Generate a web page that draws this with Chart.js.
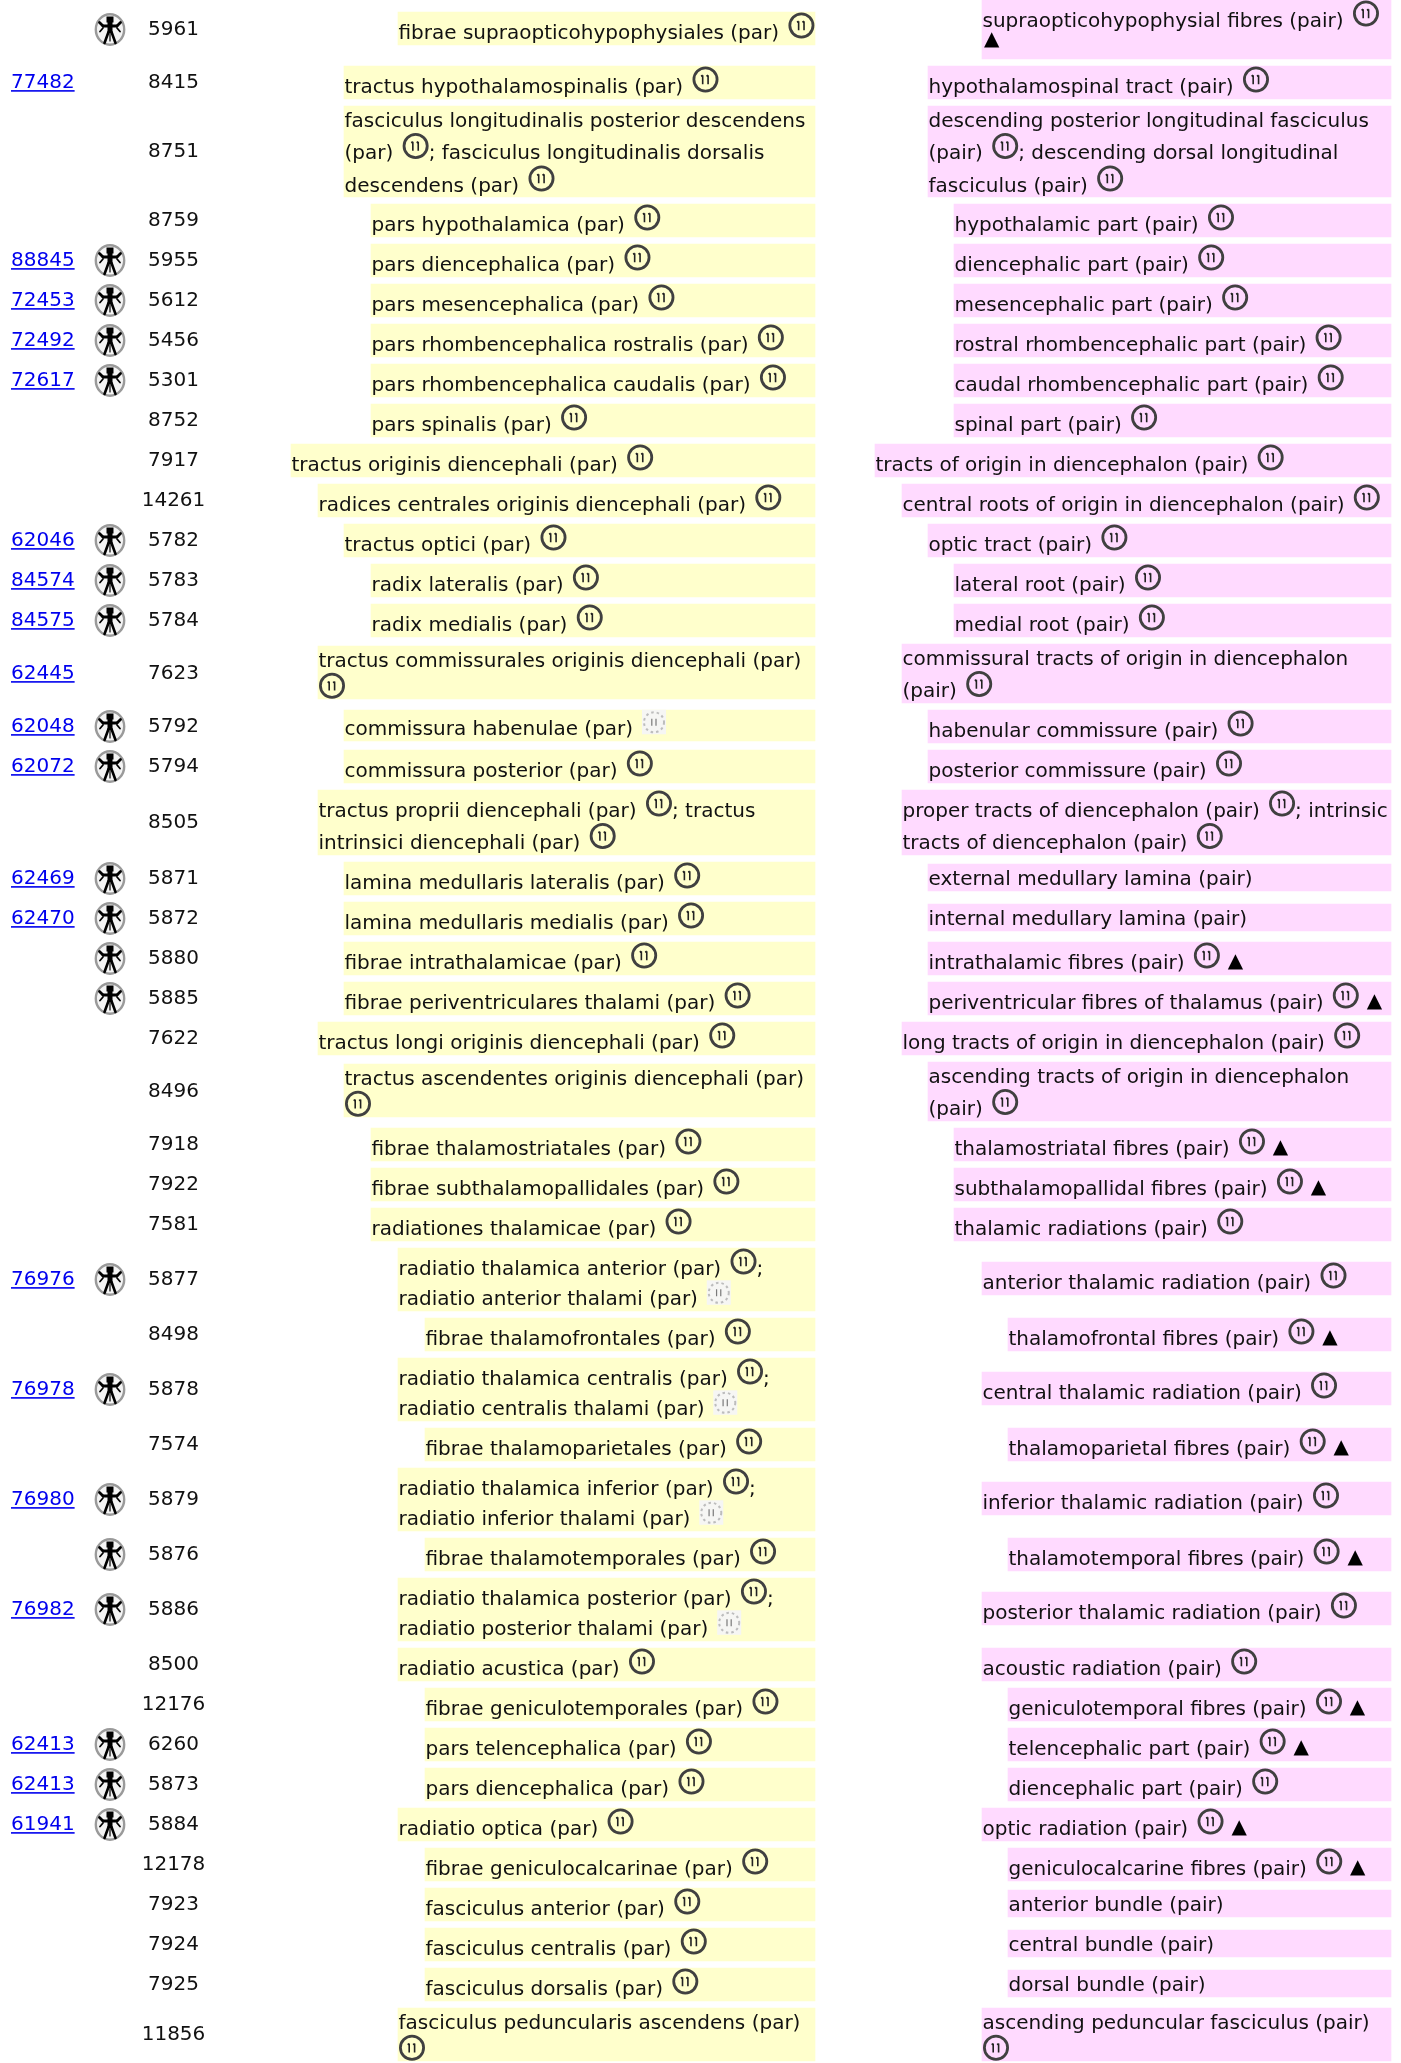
<!DOCTYPE html>
<html>
<head>
<meta charset="utf-8">
<style>html,body{margin:0;padding:0;background:#fff}canvas{display:block}</style>
<script src="https://cdn.jsdelivr.net/npm/chart.js@4"></script>
</head>
<body>
<canvas id="c" width="1401" height="2063"></canvas>
<script>
// Table cells. In term strings: "|" = line break, "@" = symbol, "%" = faded symbol, "^" = triangle mark
const linkIds = ['', '77482', '', '', '88845', '72453', '72492', '72617', '', '', '', '62046', '84574', '84575', '62445', '62048', '62072', '', '62469', '62470', '', '', '', '', '', '', '', '76976', '', '76978', '', '76980', '', '76982', '', '', '62413', '62413', '61941', '', '', '', '', ''];
const hasFigure = [1,0,0,0,1,1,1,1,0,0,0,1,1,1,0,1,1,0,1,1,1,1,0,0,0,0,0,1,0,1,0,1,1,1,0,0,1,1,1,0,0,0,0,0];
const entryIds = ['5961','8415','8751','8759','5955','5612','5456','5301','8752','7917','14261','5782','5783','5784','7623','5792','5794','8505','5871','5872','5880','5885','7622','8496','7918','7922','7581','5877','8498','5878','7574','5879','5876','5886','8500','12176','6260','5873','5884','12178','7923','7924','7925','11856'];
const levels = [4,2,2,3,3,3,3,3,3,0,1,2,3,3,1,2,2,1,2,2,2,2,1,2,3,3,3,4,5,4,5,4,5,4,4,5,5,5,4,5,5,5,5,4];
const latinTerms = [
 'fibrae supraopticohypophysiales (par) @',
 'tractus hypothalamospinalis (par) @',
 'fasciculus longitudinalis posterior descendens|(par) @; fasciculus longitudinalis dorsalis|descendens (par) @',
 'pars hypothalamica (par) @',
 'pars diencephalica (par) @',
 'pars mesencephalica (par) @',
 'pars rhombencephalica rostralis (par) @',
 'pars rhombencephalica caudalis (par) @',
 'pars spinalis (par) @',
 'tractus originis diencephali (par) @',
 'radices centrales originis diencephali (par) @',
 'tractus optici (par) @',
 'radix lateralis (par) @',
 'radix medialis (par) @',
 'tractus commissurales originis diencephali (par)|@',
 'commissura habenulae (par) %',
 'commissura posterior (par) @',
 'tractus proprii diencephali (par) @; tractus|intrinsici diencephali (par) @',
 'lamina medullaris lateralis (par) @',
 'lamina medullaris medialis (par) @',
 'fibrae intrathalamicae (par) @',
 'fibrae periventriculares thalami (par) @',
 'tractus longi originis diencephali (par) @',
 'tractus ascendentes originis diencephali (par)|@',
 'fibrae thalamostriatales (par) @',
 'fibrae subthalamopallidales (par) @',
 'radiationes thalamicae (par) @',
 'radiatio thalamica anterior (par) @;|radiatio anterior thalami (par) %',
 'fibrae thalamofrontales (par) @',
 'radiatio thalamica centralis (par) @;|radiatio centralis thalami (par) %',
 'fibrae thalamoparietales (par) @',
 'radiatio thalamica inferior (par) @;|radiatio inferior thalami (par) %',
 'fibrae thalamotemporales (par) @',
 'radiatio thalamica posterior (par) @;|radiatio posterior thalami (par) %',
 'radiatio acustica (par) @',
 'fibrae geniculotemporales (par) @',
 'pars telencephalica (par) @',
 'pars diencephalica (par) @',
 'radiatio optica (par) @',
 'fibrae geniculocalcarinae (par) @',
 'fasciculus anterior (par) @',
 'fasciculus centralis (par) @',
 'fasciculus dorsalis (par) @',
 'fasciculus peduncularis ascendens (par)|@'
];
const englishTerms = [
 'supraopticohypophysial fibres (pair) @|^',
 'hypothalamospinal tract (pair) @',
 'descending posterior longitudinal fasciculus|(pair) @; descending dorsal longitudinal|fasciculus (pair) @',
 'hypothalamic part (pair) @',
 'diencephalic part (pair) @',
 'mesencephalic part (pair) @',
 'rostral rhombencephalic part (pair) @',
 'caudal rhombencephalic part (pair) @',
 'spinal part (pair) @',
 'tracts of origin in diencephalon (pair) @',
 'central roots of origin in diencephalon (pair) @',
 'optic tract (pair) @',
 'lateral root (pair) @',
 'medial root (pair) @',
 'commissural tracts of origin in diencephalon|(pair) @',
 'habenular commissure (pair) @',
 'posterior commissure (pair) @',
 'proper tracts of diencephalon (pair) @; intrinsic|tracts of diencephalon (pair) @',
 'external medullary lamina (pair)',
 'internal medullary lamina (pair)',
 'intrathalamic fibres (pair) @ ^',
 'periventricular fibres of thalamus (pair) @ ^',
 'long tracts of origin in diencephalon (pair) @',
 'ascending tracts of origin in diencephalon|(pair) @',
 'thalamostriatal fibres (pair) @ ^',
 'subthalamopallidal fibres (pair) @ ^',
 'thalamic radiations (pair) @',
 'anterior thalamic radiation (pair) @',
 'thalamofrontal fibres (pair) @ ^',
 'central thalamic radiation (pair) @',
 'thalamoparietal fibres (pair) @ ^',
 'inferior thalamic radiation (pair) @',
 'thalamotemporal fibres (pair) @ ^',
 'posterior thalamic radiation (pair) @',
 'acoustic radiation (pair) @',
 'geniculotemporal fibres (pair) @ ^',
 'telencephalic part (pair) @ ^',
 'diencephalic part (pair) @',
 'optic radiation (pair) @ ^',
 'geniculocalcarine fibres (pair) @ ^',
 'anterior bundle (pair)',
 'central bundle (pair)',
 'dorsal bundle (pair)',
 'ascending peduncular fasciculus (pair)|@'
];
// Extent of each cell along the vertical axis
const latinTop = [12,66,106,204,244,284,324,364,404,444,484,524,564,604,646,710,750,790,862,902,942,982,1022,1064,1128,1168,1208,1248,1318,1358,1428,1468,1538,1578,1648,1688,1728,1768,1808,1848,1888,1928,1968,2008];
const latinBottom = [45,99,197,237,277,317,357,397,437,477,517,557,597,637,699,741,783,855,895,935,975,1015,1055,1117,1161,1201,1241,1311,1351,1421,1461,1531,1571,1641,1681,1721,1761,1801,1841,1881,1921,1961,2001,2061];
const englishTop = [0,66,106,204,244,284,324,364,404,444,484,524,564,604,644,710,750,790,864,904,942,982,1022,1062,1128,1168,1208,1262,1318,1372,1428,1482,1538,1592,1648,1688,1728,1768,1808,1848,1890,1930,1970,2008];
const englishBottom = [59,99,197,237,277,317,357,397,437,477,517,557,597,637,703,743,783,855,891,931,975,1015,1055,1121,1161,1201,1241,1295,1351,1405,1461,1515,1571,1625,1681,1721,1761,1801,1841,1881,1917,1957,1997,2061];
// Column starts per hierarchy level and column ends, along the horizontal axis
const latinLevelStart = [291,318,344,371,398,425];
const englishLevelStart = [875,902,928,954,982,1008];
const latinEnd = 815;
const englishEnd = 1391;

const YELLOW = '#FFFFCC', PINK = '#FFDAFF', INK = '#111', LINK = '#0000EE';
const FONT = '20px "DejaVu Sans"';
const LINK_X = 11, FIGURE_X = 110, ID_X = 173.5;

function rowMiddle(i){ return (Math.min(latinTop[i],englishTop[i]) + Math.max(latinBottom[i],englishBottom[i])) / 2; }

function figureSprite(){
  const s = document.createElement('canvas'); s.width = 32; s.height = 33;
  const g = s.getContext('2d');
  g.filter = 'blur(0.7px)';
  g.fillStyle = '#f4f4f4'; g.beginPath(); g.ellipse(16,16.5,15,16,0,0,7); g.fill();
  g.lineCap = 'round';
  g.strokeStyle = '#9a9a9a'; g.lineWidth = 2.4; g.beginPath(); g.ellipse(16,16.5,14.2,15.2,0,0,7); g.stroke();
  g.strokeStyle = '#000'; g.fillStyle = '#000';
  g.fillRect(12.5,3.5,7,6);
  g.fillRect(13.5,9,5,11);
  g.lineWidth = 2.8;
  g.beginPath(); g.moveTo(9,13); g.lineTo(23,13); g.stroke();
  g.beginPath(); g.moveTo(9,13); g.lineTo(5.5,9.5); g.moveTo(23,13); g.lineTo(26.5,9.5); g.stroke();
  g.lineWidth = 1.8;
  g.beginPath(); g.moveTo(9,15); g.lineTo(6,18.5); g.moveTo(23,15); g.lineTo(26,18.5); g.stroke();
  g.lineWidth = 2.6;
  g.beginPath(); g.moveTo(14.5,19); g.lineTo(10.5,30); g.moveTo(17.5,19); g.lineTo(21.5,30); g.stroke();
  g.lineWidth = 1.2;
  g.beginPath(); g.moveTo(16,20); g.lineTo(16,28); g.stroke();
  return s;
}

function drawRing(ctx, x, base){
  const cx = x + 16, cy = base - 13;
  ctx.save();
  ctx.filter = 'blur(0.6px)';
  ctx.strokeStyle = '#404040'; ctx.lineWidth = 2.8;
  ctx.beginPath(); ctx.arc(cx, cy, 11.6, 0, Math.PI*2); ctx.stroke();
  ctx.strokeStyle = '#222'; ctx.lineWidth = 1.6;
  ctx.beginPath();
  ctx.moveTo(cx-2.8, cy-4.2); ctx.lineTo(cx-2.8, cy+4.8);
  ctx.moveTo(cx+2.6, cy-4.2); ctx.lineTo(cx+2.6, cy+4.8);
  ctx.moveTo(cx-4.4, cy-3.2); ctx.lineTo(cx-2.8, cy-4.2);
  ctx.moveTo(cx+1, cy-3.2); ctx.lineTo(cx+2.6, cy-4.2);
  ctx.stroke();
  ctx.restore();
}

function drawFaded(ctx, x, base){
  const cx = x + 14.5, cy = base - 12.5;
  ctx.save();
  ctx.filter = 'blur(0.5px)';
  ctx.fillStyle = 'rgba(245,245,245,0.95)';
  ctx.fillRect(cx-12, cy-12.5, 24, 24.5);
  ctx.strokeStyle = '#bdbdbd'; ctx.lineWidth = 2; ctx.setLineDash([2.5,3]);
  ctx.beginPath(); ctx.arc(cx, cy, 10, 0, Math.PI*2); ctx.stroke();
  ctx.setLineDash([]);
  ctx.strokeStyle = '#7a7a7a'; ctx.lineWidth = 1.2;
  ctx.beginPath();
  ctx.moveTo(cx-2.2, cy-3.5); ctx.lineTo(cx-2.2, cy+3.5);
  ctx.moveTo(cx+2, cy-3.5); ctx.lineTo(cx+2, cy+3.5);
  ctx.stroke();
  ctx.restore();
}

// Line box metrics follow the inline content of each line: [height, baseline offset]
function lineBox(line){
  const words = /[a-z]/.test(line);
  if (!words && line.includes('^')) return [26, 14];
  if (!words) return [26, 26.3];
  if (line.includes('@')) return [32.5, 26.5];
  if (line.includes('%')) return [30.5, 24.8];
  return [26.5, 20.8];
}

function drawCell(ctx, term, startX, topY){
  let y = topY;
  term.split('|').forEach(line => {
    const [h, off] = lineBox(line);
    const base = y + off;
    let x = startX + 0.5;
    if (line[0] === '@') x -= 2.5;
    line.split(/([@%^])/).forEach(tok => {
      if (!tok) return;
      if (tok === '@') { drawRing(ctx, x, base); x += 29; }
      else if (tok === '%') { drawFaded(ctx, x, base); x += 28; }
      else if (tok === '^') {
        ctx.save();
        ctx.font = '20px "DejaVu Sans"';
        ctx.fillStyle = '#000';
        ctx.fillText('▲', x + 1.5, base - 1.5);
        ctx.restore();
        x += 16;
      } else {
        ctx.fillText(tok, x, base);
        x += ctx.measureText(tok).width;
      }
    });
    y += h;
  });
}

const textPlugin = {
  id: 'tableText',
  afterDatasetsDraw(chart){
    const {ctx, scales:{x:sx, y:sy}} = chart;
    ctx.save();
    ctx.font = FONT; ctx.fillStyle = INK; ctx.textBaseline = 'alphabetic';
    ctx.filter = 'blur(0.3px)';
    entryIds.forEach((id, i) => {
      const base = sy.getPixelForValue(rowMiddle(i)) + 5.6;
      ctx.textAlign = 'center';
      ctx.fillText(id, sx.getPixelForValue(ID_X), base);
      ctx.textAlign = 'left';
      if (linkIds[i]) {
        const lx = sx.getPixelForValue(LINK_X);
        ctx.fillStyle = LINK;
        ctx.fillText(linkIds[i], lx, base);
        ctx.fillRect(lx, base + 2, ctx.measureText(linkIds[i]).width, 1.6);
        ctx.fillStyle = INK;
      }
      drawCell(ctx, latinTerms[i], sx.getPixelForValue(latinLevelStart[levels[i]]), sy.getPixelForValue(latinTop[i]));
      drawCell(ctx, englishTerms[i], sx.getPixelForValue(englishLevelStart[levels[i]]), sy.getPixelForValue(englishTop[i]));
    });
    ctx.restore();
  }
};

const bar = (start, end, top, bottom, color) => ({
  type: 'bar',
  data: [{ x: [start, end], y: (top + bottom) / 2 }],
  barThickness: bottom - top,
  grouped: false,
  backgroundColor: color,
  borderWidth: 0
});

const datasets = [];
entryIds.forEach((id, i) => {
  datasets.push(bar(latinLevelStart[levels[i]], latinEnd, latinTop[i], latinBottom[i], YELLOW));
  datasets.push(bar(englishLevelStart[levels[i]], englishEnd, englishTop[i], englishBottom[i], PINK));
});
datasets.push({
  type: 'scatter',
  data: entryIds.map((id, i) => hasFigure[i] ? { x: FIGURE_X, y: rowMiddle(i) } : null).filter(Boolean),
  pointStyle: figureSprite(),
  pointRadius: 16,
  showLine: false
});

new Chart(document.getElementById('c'), {
  type: 'bar',
  data: { datasets },
  options: {
    indexAxis: 'y',
    responsive: false,
    animation: false,
    events: [],
    layout: { padding: 0, autoPadding: false },
    plugins: { legend: { display: false }, tooltip: { enabled: false }, title: { display: false } },
    scales: {
      x: { type: 'linear', min: 0, max: 1401, display: false, offset: false },
      y: { type: 'linear', min: 0, max: 2063, reverse: true, display: false, offset: false }
    }
  },
  plugins: [textPlugin]
});
</script>
</body>
</html>
